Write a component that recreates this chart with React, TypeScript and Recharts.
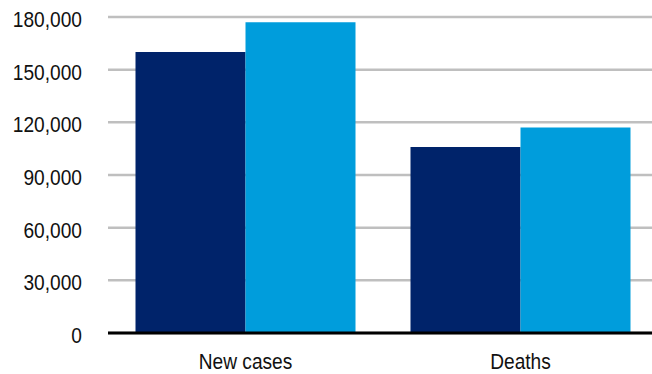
import { Bar, BarChart, CartesianGrid, XAxis, YAxis } from "recharts";

const categories = ["New cases", "Deaths"];
const seriesA = [160000, 106000];
const seriesB = [177000, 117000];
const yTicks = [0, 30000, 60000, 90000, 120000, 150000, 180000];

const DARK = "#00236A";
const LIGHT = "#009DDC";

const data = categories.map((name, i) => ({
  name,
  a: seriesA[i],
  b: seriesB[i],
}));

// narrow sans look: squeeze Liberation Sans horizontally
const FONT = "'Liberation Sans', Arial, sans-serif";
const SQUEEZE = 0.87;

function YTick({ x, y, payload }: any) {
  return (
    <text
      transform={`translate(${x},${y + 2}) scale(${SQUEEZE},1)`}
      textAnchor="end"
      dominantBaseline="central"
      fontFamily={FONT}
      fontSize={22}
      fill="#111"
    >
      {Number(payload.value).toLocaleString("en-US")}
    </text>
  );
}

function XTick({ x, y, payload }: any) {
  return (
    <text
      transform={`translate(${x},${y}) scale(${SQUEEZE},1)`}
      textAnchor="middle"
      dy="0.71em"
      fontFamily={FONT}
      fontSize={22}
      fill="#111"
    >
      {payload.value}
    </text>
  );
}

export default function App() {
  return (
    <div
      style={{
        position: "absolute",
        left: 0,
        top: 0,
        width: 652,
        height: 374,
        overflow: "hidden",
        background: "#fff",
      }}
    >
      <BarChart
        width={658}
        height={374}
        data={data}
        margin={{ top: 17, right: 0, bottom: 0, left: 0 }}
        barCategoryGap={27.5}
        barGap={0}
      >
        <CartesianGrid vertical={false} stroke="#BFBFBF" strokeWidth={2.5} />
        <XAxis
          dataKey="name"
          height={41}
          tickLine={false}
          tickSize={0}
          tickMargin={20}
          axisLine={{ stroke: "#000", strokeWidth: 3 }}
          tick={<XTick />}
        />
        <YAxis
          width={108}
          domain={[0, 180000]}
          ticks={yTicks}
          interval={0}
          tickLine={false}
          tickSize={0}
          tickMargin={26}
          axisLine={false}
          tick={<YTick />}
        />
        <Bar dataKey="a" fill={DARK} isAnimationActive={false} />
        <Bar dataKey="b" fill={LIGHT} isAnimationActive={false} />
      </BarChart>
    </div>
  );
}
